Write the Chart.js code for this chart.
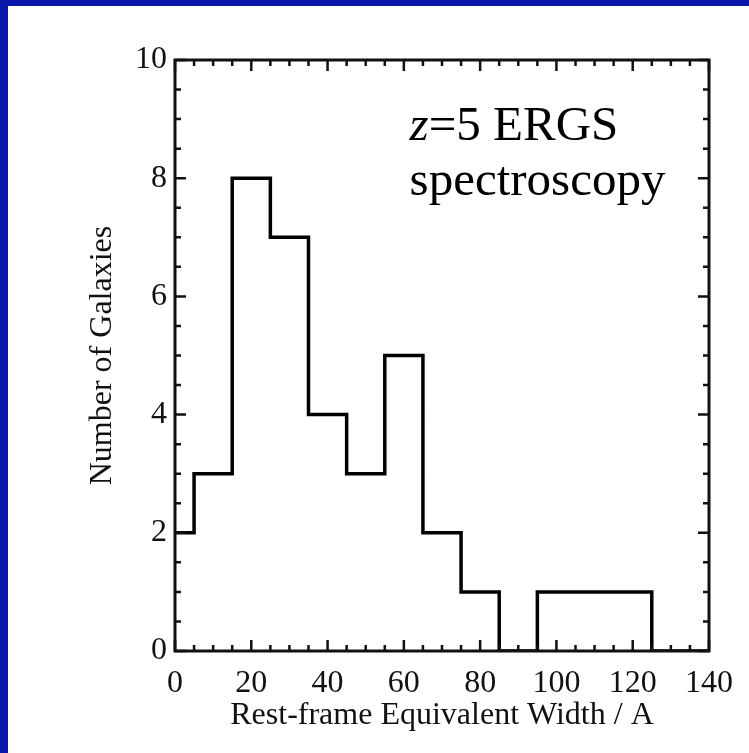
<!DOCTYPE html>
<html>
<head>
<meta charset="utf-8">
<script src="https://cdn.jsdelivr.net/npm/chart.js@4.4.1/dist/chart.umd.min.js"></script>
<style>
html, body { margin: 0; padding: 0; background: #fff; }
body { width: 749px; height: 753px; overflow: hidden; }
#frame {
    box-sizing: border-box;
    width: 749px; height: 753px;
    border-left: 8px solid #0819a9;
    border-top: 6px solid #0819a9;
    background: #fff;
}
#wrap { width: 741px; height: 747px; position: relative; }
</style>
</head>
<body>
<div id="frame"><div id="wrap"><canvas id="hist"></canvas></div></div>
<script>
// histogram bins (centres, 10 A wide) and counts
var binCenters = [0, 10, 20, 30, 40, 50, 60, 70, 80, 90, 100, 110, 120, 130, 140];
var galaxyCounts = [2, 3, 8, 7, 4, 3, 5, 2, 1, 0, 1, 1, 1, 0, 0];
var xRange = [0, 140];
var yRange = [0, 10];
var xLabel = 'Rest-frame Equivalent Width / A';
var yLabel = 'Number of Galaxies';
var noteZ = 'z';
var noteLines = ['=5 ERGS', 'spectroscopy'];

var serif = '"Liberation Serif", "Times New Roman", serif';
var ink = '#111';

var points = binCenters.map(function (c, i) { return { x: c, y: galaxyCounts[i] }; });

// IDL-style frame: box on all four sides, ticks pointing inward
var idlFrame = {
    id: 'idlFrame',
    afterDatasetsDraw: function (chart) {
        var ctx = chart.ctx, a = chart.chartArea;
        var xs = chart.scales.x, ys = chart.scales.y;
        ctx.save();
        ctx.strokeStyle = ink;
        ctx.lineWidth = 3;
        ctx.strokeRect(a.left, a.top, a.right - a.left, a.bottom - a.top);

        ctx.lineWidth = 2.5;
        ctx.beginPath();
        var v, p, len;
        for (v = xRange[0]; v <= xRange[1]; v += 5) {
            p = xs.getPixelForValue(v);
            len = v % 20 === 0 ? 11 : 6;
            ctx.moveTo(p, a.bottom); ctx.lineTo(p, a.bottom - len);
            ctx.moveTo(p, a.top); ctx.lineTo(p, a.top + len);
        }
        for (v = yRange[0]; v <= yRange[1]; v += 0.5) {
            p = ys.getPixelForValue(v);
            len = v % 2 === 0 ? 11 : 6;
            ctx.moveTo(a.left, p); ctx.lineTo(a.left + len, p);
            ctx.moveTo(a.right, p); ctx.lineTo(a.right - len, p);
        }
        ctx.stroke();

        // annotation
        var nx = xs.getPixelForValue(61.5);
        var ny1 = ys.getPixelForValue(8.65);
        var ny2 = ys.getPixelForValue(7.72);
        ctx.fillStyle = '#000';
        ctx.textBaseline = 'alphabetic';
        ctx.textAlign = 'left';
        ctx.font = 'italic 49px ' + serif;
        ctx.fillText(noteZ, nx, ny1);
        var zw = ctx.measureText(noteZ).width;
        ctx.font = '49px ' + serif;
        ctx.fillText(noteLines[0], nx + zw, ny1);
        ctx.fillText(noteLines[1], nx, ny2);
        ctx.restore();
    }
};

Chart.defaults.animation = false;
Chart.defaults.font.family = serif;
Chart.defaults.color = ink;

new Chart(document.getElementById('hist'), {
    type: 'line',
    data: {
        datasets: [{
            data: points,
            stepped: 'middle',
            borderColor: '#000',
            borderWidth: 3.5,
            pointRadius: 0,
            fill: false
        }]
    },
    options: {
        responsive: true,
        maintainAspectRatio: false,
        layout: { padding: { left: 0, top: 54, right: 40, bottom: 0 } },
        plugins: { legend: { display: false }, tooltip: { enabled: false } },
        scales: {
            x: {
                type: 'linear',
                min: xRange[0], max: xRange[1],
                grid: { display: false, drawTicks: false },
                border: { display: false },
                ticks: { stepSize: 20, padding: 13, maxRotation: 0, font: { size: 32 }, color: ink },
                title: { display: true, text: xLabel, font: { size: 32 }, color: ink, padding: { top: 0, bottom: 18 } },
                afterFit: function (s) { s.height = 102; }
            },
            y: {
                min: yRange[0], max: yRange[1],
                grid: { display: false, drawTicks: false },
                border: { display: false },
                ticks: { stepSize: 2, padding: 8, font: { size: 32 }, color: ink },
                title: { display: true, text: yLabel, font: { size: 32 }, color: ink, padding: { top: 75, bottom: 0 } },
                afterFit: function (s) { s.width = 167; }
            }
        }
    },
    plugins: [idlFrame]
});
</script>
</body>
</html>
